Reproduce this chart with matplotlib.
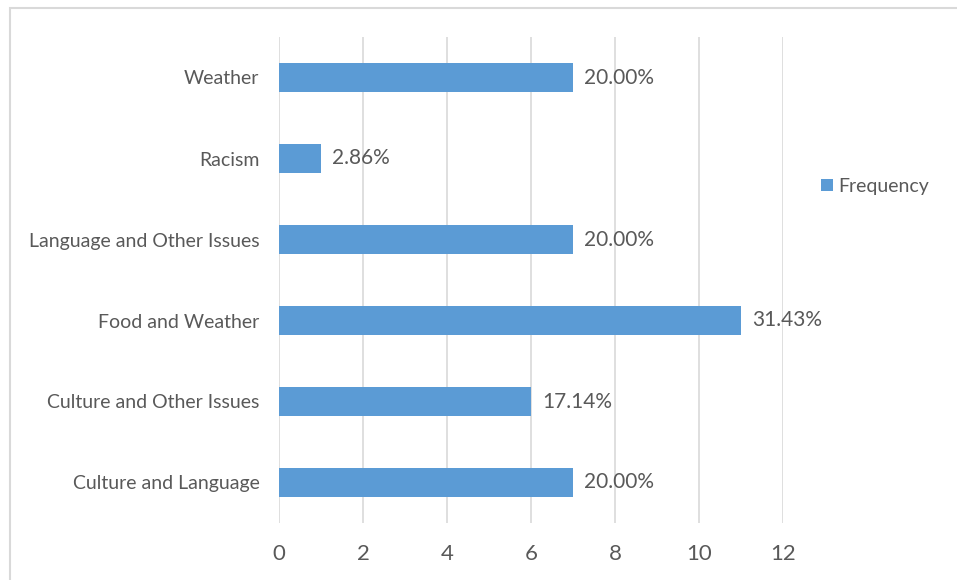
import matplotlib.pyplot as plt
from matplotlib.patches import Rectangle

categories = ["Culture and Language", "Culture and Other Issues", "Food and Weather",
              "Language and Other Issues", "Racism", "Weather"]
frequency = [7, 6, 11, 7, 1, 7]
percent_labels = ["20.00%", "17.14%", "31.43%", "20.00%", "2.86%", "20.00%"]
x_ticks = [0, 2, 4, 6, 8, 10, 12]

plt.rcParams['font.family'] = ['Lato', 'DejaVu Sans']
text_color = "#595959"
bar_color = "#5B9BD5"
grid_color = "#D9D9D9"

fig = plt.figure(figsize=(9.57, 5.80), dpi=100)
fig.patches.append(Rectangle((10 / 957, -0.1), 1.2, 1 - 8 / 580 + 0.1,
                             transform=fig.transFigure, fill=False,
                             edgecolor="#D9D9D9", linewidth=1.5))

ax = fig.add_axes([279 / 957, 1 - 523 / 580, (783 - 279) / 957, (523 - 37) / 580])
ypos = list(range(len(categories)))
bars = ax.barh(ypos, frequency, height=0.36, color=bar_color, label="Frequency", zorder=3)

for y, v, lab in zip(ypos, frequency, percent_labels):
    ax.annotate(lab, (v, y), xytext=(8, 0), textcoords="offset points",
                va="center", ha="left", fontsize=15, color=text_color)

ax.set_xlim(0, 12)
ax.set_ylim(-0.5, len(categories) - 0.5)
ax.set_xticks(x_ticks)
ax.set_xticklabels([str(t) for t in x_ticks], fontsize=16, color=text_color)
ax.set_yticks(ypos)
ax.set_yticklabels(categories, fontsize=14, color=text_color)
ax.tick_params(axis="x", length=0, pad=15)
ax.tick_params(axis="y", length=0, pad=14)
ax.grid(axis="x", color=grid_color, linewidth=1.2, zorder=0)
for s in ax.spines.values():
    s.set_visible(False)

ax.legend(loc="center left", bbox_to_anchor=(1.06, 0.693), frameon=False,
          fontsize=14, labelcolor=text_color, handlelength=0.6, handleheight=0.6,
          handletextpad=0.3, borderaxespad=0)

fig.savefig("out.png", dpi=100)
